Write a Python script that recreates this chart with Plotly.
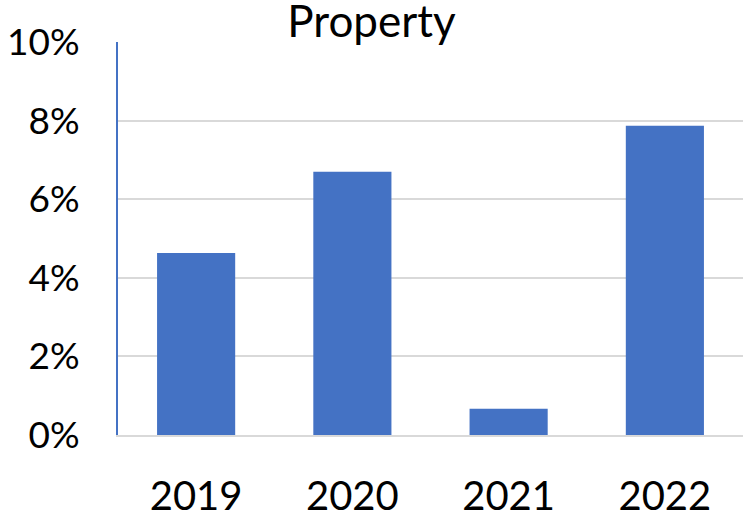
import plotly.graph_objects as go

BLUE = "#4472C4"
GRID = "#d9d9d9"
FONT = "Lato"

years = ["2019", "2020", "2021", "2022"]
values = [0.0463, 0.0670, 0.0067, 0.0787]

fig = go.Figure(go.Bar(
    x=years, y=values,
    marker=dict(color=BLUE, line=dict(width=0)),
))

fig.update_layout(
    width=743, height=518,
    paper_bgcolor="white", plot_bgcolor="white",
    font=dict(family=FONT, color="black"),
    margin=dict(l=118, r=0, t=42, b=83),
    bargap=0.5,
    showlegend=False,
    title=dict(text="Property", x=0.5, xref="container", y=0.958, yanchor="middle",
               font=dict(size=44, family=FONT, color="black")),
    xaxis=dict(
        showgrid=False, showline=True, linecolor=GRID, linewidth=2,
        tickfont=dict(size=40), ticklabelstandoff=25, automargin=False,
    ),
    yaxis=dict(
        range=[0, 0.1], dtick=0.02, tickformat=".0%",
        showgrid=True, gridcolor=GRID, gridwidth=2,
        showline=True, linecolor=BLUE, linewidth=2,
        zeroline=False, automargin=False,
        tickfont=dict(size=37), ticklabelstandoff=29,
    ),
)

# pin the figure to the page corner (drop the default body margin)
page_css = (
    "document.body.style.margin='0';"
    "document.body.style.overflow='hidden';"
)
fig.write_html("out.html", config={"displayModeBar": False}, post_script=page_css)
